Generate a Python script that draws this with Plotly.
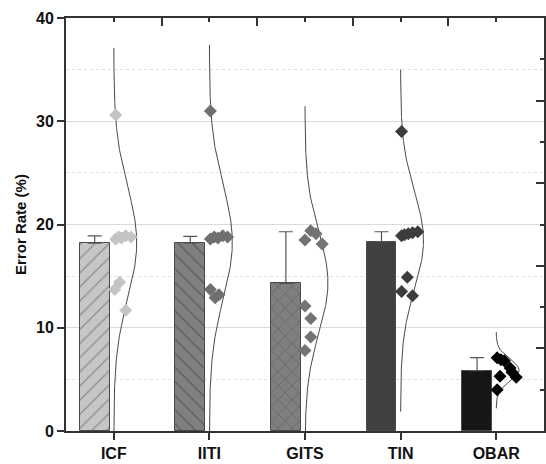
import numpy as np
import plotly.graph_objects as go

# ---------------- data ----------------
categories = ["ICF", "IITI", "GITS", "TIN", "OBAR"]
bar_means = [18.2, 18.2, 14.3, 18.35, 5.85]
bar_errors = [0.7, 0.65, 5.0, 0.95, 1.25]

icf_points = [30.6, 18.6, 18.8, 18.7, 18.9, 18.8, 14.4, 13.7, 11.7]
iiti_points = [31.0, 18.6, 18.8, 18.7, 18.9, 18.8, 13.7, 12.9, 13.2]
gits_points = [18.5, 19.4, 19.1, 18.1, 12.1, 10.9, 9.1, 7.8]
tin_points = [29.0, 18.9, 19.0, 19.1, 19.2, 19.3, 14.9, 13.5, 13.1]
obar_points = [7.1, 6.9, 6.8, 6.1, 5.7, 5.2, 5.3, 4.0]

# horizontal jitter of the points (category units, right of the tick)
icf_jitter = [0.02, 0.02, 0.05, 0.08, 0.125, 0.18, 0.06, 0.01, 0.125]
iiti_jitter = [0.01, 0.01, 0.05, 0.09, 0.14, 0.19, 0.01, 0.06, 0.10]
gits_jitter = [0.0, 0.06, 0.115, 0.18, 0.0, 0.06, 0.06, 0.0]
tin_jitter = [0.01, 0.01, 0.04, 0.08, 0.125, 0.18, 0.07, 0.01, 0.125]
obar_jitter = [0.01, 0.05, 0.085, 0.145, 0.165, 0.21, 0.04, 0.01]

y_ticks = [0, 10, 20, 30, 40]

# ---------------- style ----------------
bar_colors = ["#c6c6c6", "#808080", "#7f7f7f", "#404040", "#161616"]
hatch_shapes = ["/", "\\", "x", "", ""]
hatch_colors = ["#8c8c8c", "#5a5a5a", "#5c5c5c", "#404040", "#161616"]
point_colors = ["#c4c4c4", "#6f6f6f", "#737373", "#3c3c3c", "#000000"]

all_points = [icf_points, iiti_points, gits_points, tin_points, obar_points]
all_jitter = [icf_jitter, iiti_jitter, gits_jitter, tin_jitter, obar_jitter]

FONT = "Liberation Sans, Arial, sans-serif"
AX = "#333333"

fig = go.Figure()

xs = np.arange(len(categories))

for i in range(len(categories)):
    fig.add_trace(go.Bar(
        x=[xs[i] - 0.2], y=[bar_means[i]], width=0.31,
        marker=dict(
            color=bar_colors[i],
            line=dict(color="#4a4a4a", width=1),
            pattern=dict(shape=hatch_shapes[i], fgcolor=hatch_colors[i],
                         bgcolor=bar_colors[i], size=10, solidity=0.12,
                         fillmode="replace"),
        ),
        error_y=dict(type="data", symmetric=False, array=[bar_errors[i]],
                     arrayminus=[0], color="#555555", thickness=1.2, width=7),
        showlegend=False, hoverinfo="skip",
    ))

for i in range(len(categories)):
    pts = np.array(all_points[i])
    m = pts.mean()
    s = pts.std(ddof=1)
    yy = np.linspace(m - 3.5 * s, m + 3.5 * s, 300)
    xx = xs[i] + 0.24 * np.exp(-0.5 * ((yy - m) / s) ** 2)
    fig.add_trace(go.Scatter(x=xx, y=yy, mode="lines",
                             line=dict(color="#4a4a4a", width=1),
                             showlegend=False, hoverinfo="skip"))
    fig.add_trace(go.Scatter(
        x=xs[i] + np.array(all_jitter[i]), y=pts, mode="markers",
        marker=dict(symbol="diamond", size=10, color=point_colors[i],
                    line=dict(width=0)),
        showlegend=False, hoverinfo="skip"))

# invisible trace to activate the mirror axes
fig.add_trace(go.Scatter(x=[None], y=[None], xaxis="x2", yaxis="y2",
                         showlegend=False, hoverinfo="skip"))

fig.update_layout(
    width=546, height=464,
    margin=dict(l=66, r=2, t=18, b=30),
    paper_bgcolor="white", plot_bgcolor="white",
    font=dict(family=FONT, color="#111111"),
    bargap=0,
    xaxis=dict(
        range=[-0.5, 4.5], tickmode="array", tickvals=list(xs),
        ticktext=categories, ticks="outside", ticklen=7, tickwidth=1.5,
        tickcolor=AX, showline=True, linecolor=AX, linewidth=2,
        showgrid=False, zeroline=False,
        tickfont=dict(family=FONT, size=16, weight="bold", color="#111111"),
    ),
    yaxis=dict(
        range=[0, 40], tickmode="array", tickvals=y_ticks,
        ticks="outside", ticklen=7, tickwidth=1.5, tickcolor=AX,
        showline=True, linecolor=AX, linewidth=2,
        showgrid=True, gridcolor="#dadada", gridwidth=1, zeroline=False,
        minor=dict(dtick=5, showgrid=True, gridcolor="#e0e0e0",
                   griddash="dot", ticks=""),
        tickfont=dict(family=FONT, size=16, weight="bold", color="#111111"),
        title=dict(text="Error Rate (%)", standoff=6,
                   font=dict(family=FONT, size=15, weight="bold",
                             color="#111111")),
    ),
    xaxis2=dict(
        overlaying="x", side="top", range=[-0.5, 4.5],
        tickmode="array", tickvals=[0.5, 1.5, 2.5, 3.5],
        ticks="inside", ticklen=8, tickwidth=1.5, tickcolor=AX,
        showticklabels=False, showline=True, linecolor=AX, linewidth=2,
        showgrid=False, zeroline=False,
        minor=dict(tickvals=list(xs), ticks="inside", ticklen=4,
                   tickwidth=1.5, tickcolor=AX),
    ),
    yaxis2=dict(
        overlaying="y", side="right", range=[0, 10], dtick=2,
        ticks="inside", ticklen=8, tickwidth=1.5, tickcolor=AX,
        showticklabels=False, showline=True, linecolor=AX, linewidth=2,
        showgrid=False, zeroline=False,
        minor=dict(dtick=1, ticks="inside", ticklen=4, tickwidth=1.5,
                   tickcolor=AX),
    ),
)

fig.write_html("out.html")
